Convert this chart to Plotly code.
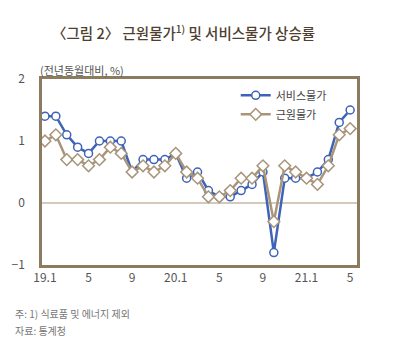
import plotly.graph_objects as go

months = ["19.1","19.2","19.3","19.4","19.5","19.6","19.7","19.8","19.9","19.10","19.11","19.12",
          "20.1","20.2","20.3","20.4","20.5","20.6","20.7","20.8","20.9","20.10","20.11","20.12",
          "21.1","21.2","21.3","21.4","21.5"]
service = [1.4,1.4,1.1,0.9,0.8,1.0,1.0,1.0,0.5,0.7,0.7,0.7,
           0.8,0.4,0.5,0.2,0.1,0.1,0.2,0.3,0.5,-0.8,0.4,0.4,
           0.4,0.5,0.7,1.3,1.5]
core = [1.0,1.1,0.7,0.7,0.6,0.7,0.9,0.8,0.5,0.6,0.5,0.6,
        0.8,0.5,0.4,0.1,0.1,0.2,0.4,0.4,0.6,-0.3,0.6,0.5,
        0.4,0.3,0.6,1.1,1.2]
tick_idx = [0,4,8,12,16,20,24,28]
tick_text = ["19.1","5","9","20.1","5","9","21.1","5"]
y_ticks = [-1,0,1,2]
y_tick_text = ["\u22121","0","1","2"]

BLUE = "#3f63b8"
BROWN = "#a8957a"
FRAME = "#8c7b5f"
FONT = "Noto Sans CJK KR"

L, R, T, B = 37, 43, 79, 89
W, H = 400, 354
pw, ph = W - L - R, H - T - B

def px(xp):
    return (xp - L) / pw

def py(yp):
    return (H - B - yp) / ph

x = list(range(len(months)))
fig = go.Figure()
fig.add_trace(go.Scatter(x=x, y=service, name="서비스물가", mode="lines+markers",
                         line=dict(color=BLUE, width=2.5),
                         marker=dict(symbol="circle", size=8, color="white",
                                     line=dict(color=BLUE, width=1.5))))
fig.add_trace(go.Scatter(x=x, y=core, name="근원물가", mode="lines+markers",
                         line=dict(color=BROWN, width=2.5),
                         marker=dict(symbol="diamond", size=9, color="white",
                                     line=dict(color=BROWN, width=1.5))))

fig.add_hline(y=0, line=dict(color=BROWN, width=1.2), layer="below")

def ann(text, xp, yp, size, color, anchor="left", weight="normal"):
    return dict(text=text, x=px(xp), y=py(yp), xref="paper", yref="paper",
                showarrow=False, xanchor=anchor, yanchor="middle",
                font=dict(size=size, color=color, family=FONT, weight=weight))

fig.update_layout(
    width=W, height=H,
    margin=dict(l=L, r=R, t=T, b=B),
    paper_bgcolor="white", plot_bgcolor="white",
    font=dict(family=FONT, color="#555555"),
    showlegend=True,
    legend=dict(x=0.615, y=0.99, xanchor="left", yanchor="top",
                bgcolor="rgba(0,0,0,0)", font=dict(size=11, color="#444444"),
                itemwidth=30, tracegroupgap=0),
    xaxis=dict(range=[-0.27, 28.63], tickmode="array", tickvals=tick_idx, ticktext=tick_text,
               showgrid=False, zeroline=False, showline=True, linecolor=FRAME, linewidth=2.5,
               mirror=True, ticks="", tickfont=dict(size=12, color="#555555")),
    yaxis=dict(range=[-1, 2], tickmode="array", tickvals=y_ticks, ticktext=y_tick_text,
               showgrid=False, zeroline=False, showline=True, linecolor=FRAME, linewidth=2.5,
               mirror=True, ticks="", ticklabelstandoff=12, tickfont=dict(size=12, color="#555555")),
    annotations=[
        ann("〈그림 2〉 근원물가<sup>1)</sup> 및 서비스물가 상승률", 45, 32, 14.5, "#4e4030", weight=500),
        ann("(전년동월대비, %)", 33, 70, 11, "#555555"),
        ann("주: 1) 식료품 및 에너지 제외", 8, 313, 10, "#777777"),
        ann("자료: 통계청", 8, 330, 10, "#777777"),
    ],
)
fig.write_html("out.html")
